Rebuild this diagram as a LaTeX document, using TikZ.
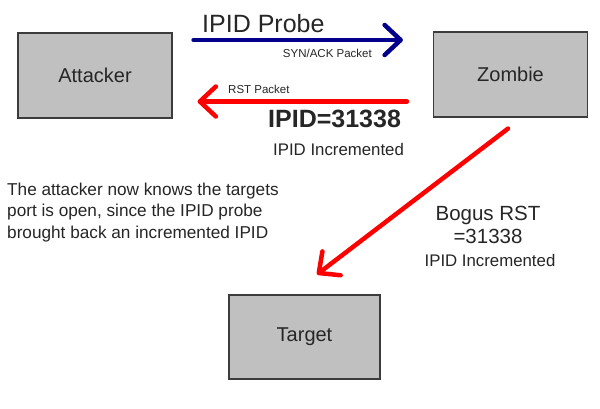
\documentclass[tikz,border=0pt]{standalone}
\usepackage{fontspec}
\setmainfont{Liberation Sans}
\usetikzlibrary{arrows.meta}
\definecolor{boxgray}{RGB}{192,192,192}
\definecolor{boxline}{RGB}{60,60,60}
\definecolor{probeblue}{RGB}{0,0,140}
\definecolor{rstred}{RGB}{255,0,0}
\newcommand{\fs}[1]{\fontsize{#1}{#1}\selectfont}
\tikzset{
  host/.style={draw=boxline, line width=1.2pt, fill=boxgray, minimum width=154pt,
    minimum height=85pt, inner sep=0pt, font=\fs{20}, text=black!85},
  flow/.style={line width=4.5pt, line cap=round,
    -{Straight Barb[length=16pt, width=30pt, line cap=round, line join=round]}},
  probe/.style={flow, draw=probeblue},
  reply/.style={flow, draw=rstred},
  lbl/.style={inner sep=0pt, text=black!85},
}
\begin{document}
\begin{tikzpicture}[x=1pt, y=-1pt]
  \useasboundingbox[fill=white] (0,0) rectangle (600,408);

  % hosts
  \node[host] (attacker) at (95,75.5) {Attacker};
  \node[host] (zombie) at (510.5,74.5) {Zombie};
  \node[host, minimum width=151pt, minimum height=84pt] (target) at (304.5,337) {Target};

  % probe from attacker to zombie
  \draw[probe, shorten <=21pt, shorten >=30pt]
    ([yshift=35.5pt]attacker.east) -- ([yshift=34.5pt]zombie.west);
  \node[lbl, anchor=base west, font=\fs{25}] (probelbl) at (202,32) {IPID Probe};
  \node[lbl, anchor=base east, font=\fs{11.5}] (synack) at (372,57) {SYN/ACK Packet};

  % reset sent back by the zombie
  \draw[reply, shorten <=26pt, shorten >=25pt]
    ([yshift=-27pt]zombie.west) -- ([yshift=-26pt]attacker.east);
  \node[lbl, anchor=base west, font=\fs{11.5}] (rstlbl) at (228,93.5) {RST Packet};
  \node[lbl, anchor=base west, font=\fs{25}\bfseries] (ipid) at (268,127) {IPID=31338};
  \node[lbl, anchor=base west, font=\fs{16.8}] (incr) at (273,155) {IPID Incremented};

  % bogus reset from zombie to target
  \draw[reply]
    ([xshift=-2.5pt, yshift=-11pt]zombie.south) -- ([xshift=12.5pt, yshift=20pt]target.north);
  \node[lbl, anchor=base, font=\fs{20.5}] (bogus) at (488,220) {Bogus RST};
  \node[lbl, anchor=base, font=\fs{20.5}] (bogusval) at (488,243) {=31338};
  \node[lbl, anchor=base, font=\fs{16.8}] (bogusincr) at (490,266) {IPID Incremented};

  % explanation (the base anchor sits on the last line)
  \node[lbl, anchor=base west, font=\fs{17.2}, align=left] (note) at (7,238)
    {The attacker now knows the targets\\[4.3pt]
     port is open, since the IPID probe\\[4.3pt]
     brought back an incremented IPID};
\end{tikzpicture}
\end{document}
